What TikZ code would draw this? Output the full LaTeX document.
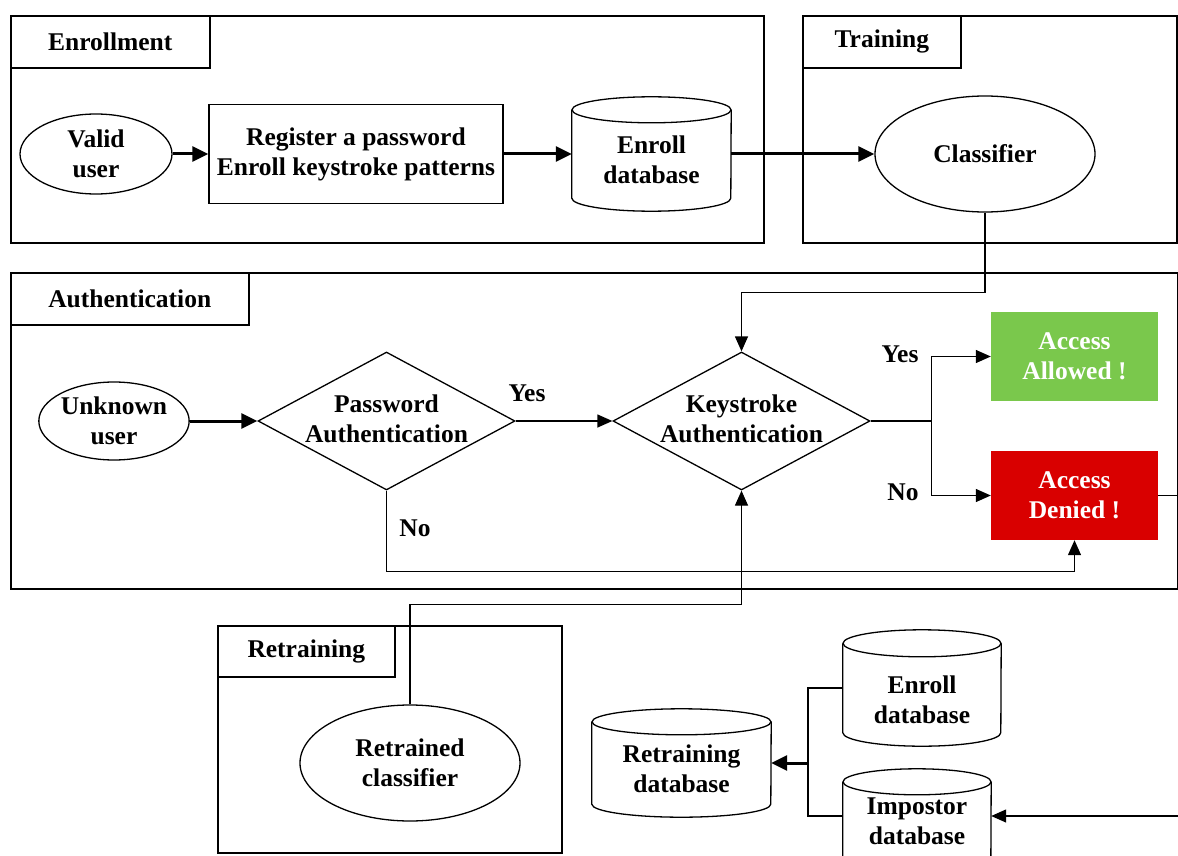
\documentclass[tikz,border=0pt]{standalone}
\usepackage{fontspec}
\setmainfont{Liberation Serif}
\usetikzlibrary{shapes.geometric,arrows.meta,calc}

\definecolor{okgreen}{RGB}{122,200,76}
\definecolor{nored}{RGB}{217,0,0}

% database cylinder: name, centre, width, height, rim half-height
\newcommand\dbcyl[5]{%
  \node[dbnode, minimum width=#3, minimum height=#4] (#1) at (#2) {};
  \draw[dbline] ([yshift=-#5]#1.north west) -- ([yshift=#5]#1.south west)
    arc[start angle=180, end angle=360, x radius=0.5*#3, y radius=#5]
    -- ([yshift=-#5]#1.north east);
  \draw[dbline] ([yshift=-#5]#1.north) ellipse[x radius=0.5*#3, y radius=#5];
}

\begin{document}
\begin{tikzpicture}[x=1pt, y=-1pt,
  every node/.style={font=\fontsize{25.5}{30}\selectfont\bfseries, align=center, inner sep=0pt},
  frame/.style={draw, line width=1.6pt, anchor=north west},
  oval/.style={ellipse, draw, line width=1.3pt},
  box/.style={rectangle, draw, line width=1.3pt},
  dia/.style={diamond, draw, line width=1.3pt},
  fillbox/.style={rectangle, text=white},
  dbnode/.style={rectangle},
  dbline/.style={line width=1.3pt},
  conn/.style={line width=1.3pt},
  arr/.style={conn, -{Triangle[length=15pt,width=13pt]}},
  thickarr/.style={line width=3pt, -{Triangle[length=16pt,width=15pt]}}]

\useasboundingbox (0,0) rectangle (1178,856);
\clip (0,0) rectangle (1178,856);

% stage frames with their title tabs
\node[frame, minimum width=753pt, minimum height=227pt] (fE) at (10,15) {};
\node[frame, minimum width=199pt, minimum height=52pt] (tE) at (10,15) {Enrollment};
\node[frame, minimum width=374pt, minimum height=227pt] (fT) at (802,15) {};
\node[frame, minimum width=158pt, minimum height=52pt] (tT) at (802,15) {Training};
\node[frame, minimum width=1167pt, minimum height=316pt] (fA) at (10,272) {};
\node[frame, minimum width=238pt, minimum height=52pt] (tA) at (10,272) {Authentication};
\node[frame, minimum width=344pt, minimum height=227pt] (fR) at (217,625) {};
\node[frame, minimum width=177pt, minimum height=51pt] (tR) at (217,625) {Retraining};

% enrollment
\node[oval, minimum width=152pt, minimum height=80pt] (valid) at (96,154) {Valid\\user};
\node[box, minimum width=294pt, minimum height=99pt] (reg) at (356,154) {Register a password\\Enroll keystroke patterns};
\dbcyl{edb}{651.5,154}{159pt}{114pt}{13pt}
\node (edbt) at (651.5,160) {Enroll\\database};

% training
\node[oval, minimum width=220pt, minimum height=116pt] (clf) at (985,154) {Classifier};

% authentication
\node[oval, minimum width=148pt, minimum height=78pt] (unk) at (114,421) {Unknown\\user};
\node[dia, minimum width=257pt, minimum height=138pt] (pw) at (386.5,421) {};
\node (pwt) at (386.5,419) {Password\\Authentication};
\node[dia, minimum width=257pt, minimum height=138pt] (ks) at (741.5,421) {};
\node (kst) at (741.5,419) {Keystroke\\Authentication};
\node[fillbox, fill=okgreen, minimum width=167pt, minimum height=89pt] (allow) at (1074.5,356.5) {Access\\Allowed !};
\node[fillbox, fill=nored, minimum width=167pt, minimum height=89pt] (deny) at (1074.5,495.5) {Access\\Denied !};
\node (yes1) at (527,393) {Yes};
\node (no1) at (415,528) {No};
\node (yes2) at (900,354) {Yes};
\node (no2) at (903,492) {No};

% retraining
\node[oval, minimum width=220pt, minimum height=116pt] (rcl) at (410,763) {Retrained\\classifier};
\dbcyl{rdb}{681.5,763}{179pt}{108pt}{13pt}
\node (rdbt) at (681.5,769) {Retraining\\database};
\dbcyl{edbb}{922,688}{158pt}{116pt}{13.5pt}
\node (edbbt) at (922,700) {Enroll\\database};
\dbcyl{imp}{917,824.5}{148pt}{111pt}{13pt}
\node (impt) at (917,821) {Impostor\\database};

\coordinate (br) at (808,763);
\coordinate (outA) at (1178,493);
\coordinate (outB) at (1178,816);

% connectors
\draw[thickarr] (valid) -- (reg);
\draw[thickarr] (reg) -- (edb);
\draw[thickarr] (edb) -- (clf);
\draw[arr] (clf.south) -- ++(0,80) -| (ks.north);
\draw[thickarr] (unk) -- (pw);
\draw[arr] (pw.east) -- (ks.west);
\draw[conn] (ks.east) -- ++(61,0) coordinate (sp);
\draw[arr] (sp) |- (allow.west);
\draw[arr] (sp) |- (deny.west);
\draw[arr] (pw.south) -- ++(0,81) -| (deny.south);
\draw[conn] (deny.east) -- (deny.east -| outA);
\draw[arr] (rcl.north) -- ++(0,-100) -| (ks.south);
\draw[thickarr] (br) -- (rdb.east);
\draw[conn] (edbb.west) -| (br) |- ([yshift=8.5pt]imp.west);
\draw[arr] (outB) -- (outB -| imp.east);
\end{tikzpicture}
\end{document}
